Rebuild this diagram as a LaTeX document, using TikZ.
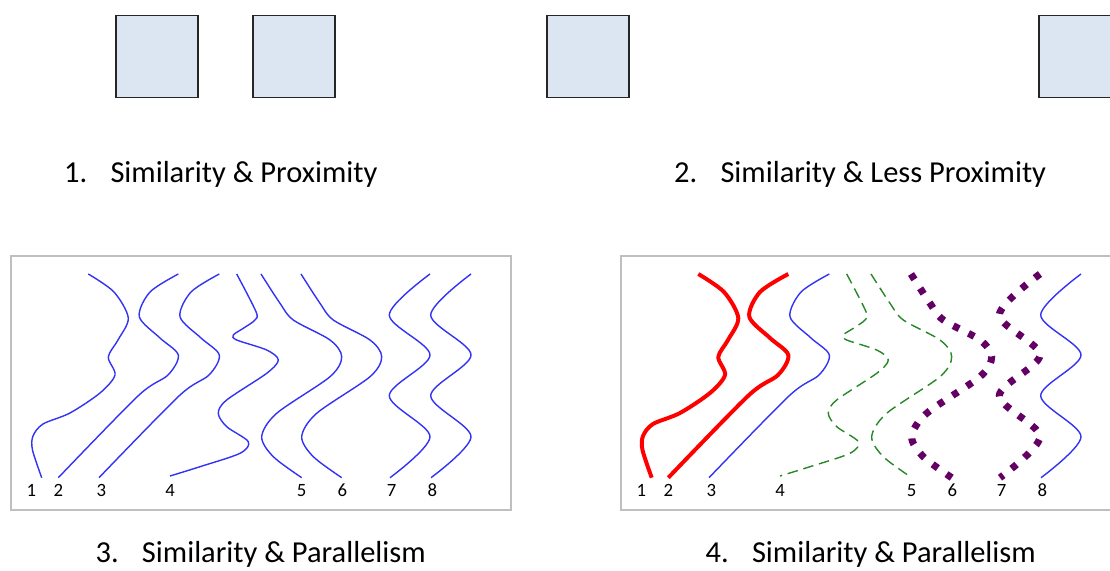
\documentclass[tikz,border=0pt]{standalone}
\usepackage{fontspec}
\setmainfont{Carlito}
\usepackage{xcolor}
\usepackage{tikz}
\usetikzlibrary{positioning}

\definecolor{boxblue}{RGB}{220,230,242}
\definecolor{framegray}{RGB}{191,191,191}
\definecolor{waveblue}{RGB}{51,51,245}
\definecolor{wavegreen}{RGB}{40,135,40}
\definecolor{wavepurple}{RGB}{100,0,100}

\tikzset{
  sqbox/.style={draw=black!85, fill=boxblue, line width=0.9pt, minimum width=2.46cm, minimum height=2.45cm, inner sep=0pt},
  panelframe/.style={draw=framegray, line width=2pt},
  bluewave/.style={waveblue, line width=1.2pt},
  redwave/.style={red, line width=3.4pt},
  greenwave/.style={wavegreen, line width=1.2pt, dash pattern=on 9pt off 5pt},
  purplewave/.style={wavepurple, line width=6pt, dash pattern=on 5.5pt off 9pt},
  caption/.style={anchor=base west, inner sep=0pt, font=\fontsize{26}{31}\selectfont},
  numlabel/.style={anchor=base, inner sep=0pt, font=\fontsize{16}{19}\selectfont}
}

% the eight wavy lines of one panel, one style for each
\newcommand{\wavelines}[8]{%
  \draw[#1] plot[smooth] coordinates {(88.3,274) (114,292) (128.3,318) (118,340) (108.3,357) (115,375) (100,393) (70,413) (43,424) (33,436) (32.5,450) (41.7,477.7)};
  \draw[#2] plot[smooth] coordinates {(178.3,274) (150,292) (139.3,316.7) (160,338) (178.3,355) (168,375) (138.3,395.7) (58.3,477.7)};
  \draw[#3] plot[smooth] coordinates {(219.3,274) (191,292) (180,316.7) (201,338) (219.3,355) (209,375) (179.3,395.7) (99,477.7)};
  \draw[#4] plot[smooth] coordinates {(236.7,274) (256,311.7) (255,320) (243.3,328.3) (233.3,335) (236.7,340) (266.7,350) (278.3,360) (266.7,373.3) (226.7,400) (218.3,413.3) (226.7,426.7) (248.3,441.7) (240,453.3) (200,466.7) (170,476)};
  \draw[#5] plot[smooth] coordinates {(261,274) (280,303.3) (293.3,320) (330,340) (341.7,356.7) (330,376.7) (276.7,413.3) (261.7,436.7) (273.3,456.7) (301.7,477.7)};
  \draw[#6] plot[smooth] coordinates {(301,274) (320,303.3) (333.3,320) (370,340) (381.7,356.7) (370,376.7) (316.7,413.3) (301.7,436.7) (313.3,456.7) (341.7,477.7)};
  \draw[#7] plot[smooth] coordinates {(430,274) (389.3,315) (430,355) (389.3,395.7) (430,436.7) (390,477.7)};
  \draw[#8] plot[smooth] coordinates {(471,274) (430.7,315) (471,355) (430.7,395.7) (471,436.7) (431,477.7)};
}

\begin{document}
\begin{tikzpicture}[x=0.03cm, y=-0.03cm]
  \useasboundingbox (0,0) rectangle (1110,571);

  % Squares
  \node[sqbox] (sqA) at (157,56.7) {};
  \node[sqbox] (sqB) at (294,56.7) {};
  \node[sqbox] (sqC) at (588,56.7) {};
  \node[sqbox] (sqD) at (1080,56.7) {};

  % Captions of the squares
  \node[caption] (capAnum) at (64,182.3) {1.};
  \node[caption, base right=0.68cm of capAnum] (capAtext) {Similarity \& Proximity};
  \node[caption] (capBnum) at (674,182.3) {2.};
  \node[caption, base right=0.68cm of capBnum] (capBtext) {Similarity \& Less Proximity};

  % Panel 3
  \draw[panelframe] (11,256) rectangle (511,510);
  \wavelines{bluewave}{bluewave}{bluewave}{bluewave}{bluewave}{bluewave}{bluewave}{bluewave}
  \foreach \i/\x in {1/31.3, 2/58.3, 3/101.3, 4/170, 5/301.7, 6/342.3, 7/391.7, 8/432.3}
    \node[numlabel] (pCnum\i) at (\x,496.7) {\i};

  % Panel 4
  \begin{scope}[shift={(610,0)}]
    \draw[panelframe] (11,256) rectangle (511,510);
    \wavelines{redwave}{redwave}{bluewave}{greenwave}{greenwave}{purplewave}{purplewave}{bluewave}
    \foreach \i/\x in {1/31.3, 2/58.3, 3/101.3, 4/170, 5/301.7, 6/342.3, 7/391.7, 8/432.3}
      \node[numlabel] (pDnum\i) at (\x,496.7) {\i};
  \end{scope}

  % Captions of the panels
  \node[caption] (capCnum) at (95.5,562.3) {3.};
  \node[caption, base right=0.68cm of capCnum] (capCtext) {Similarity \& Parallelism};
  \node[caption] (capDnum) at (705.5,562.3) {4.};
  \node[caption, base right=0.68cm of capDnum] (capDtext) {Similarity \& Parallelism};
\end{tikzpicture}
\end{document}
